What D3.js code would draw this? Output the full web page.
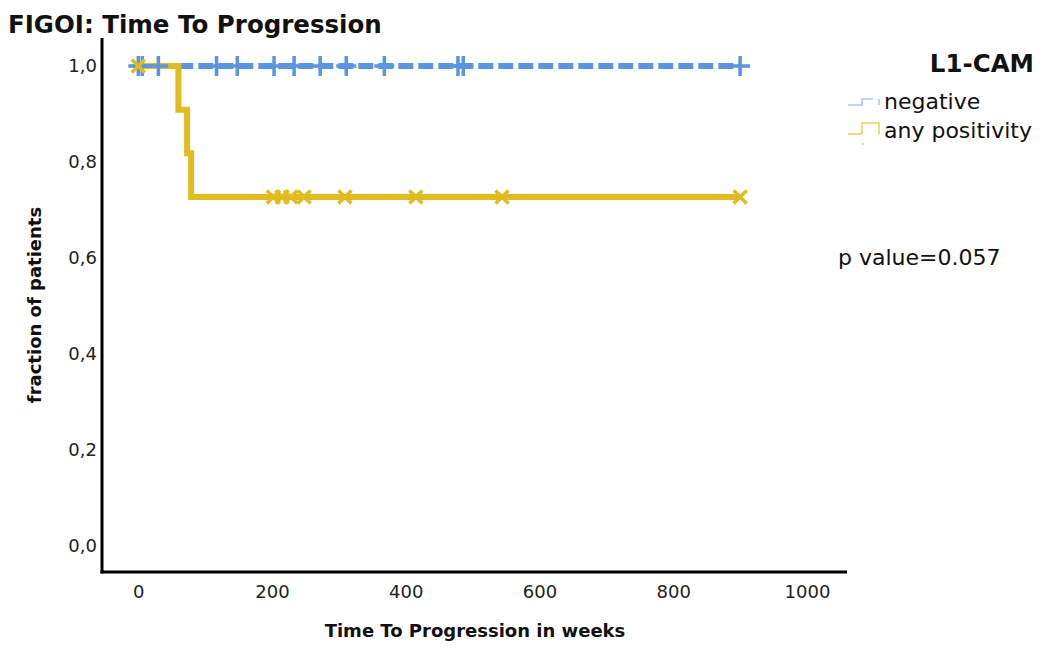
<!DOCTYPE html>
<html>
<head>
<meta charset="utf-8">
<script src="https://cdn.jsdelivr.net/npm/d3@7"></script>
<style>
  html, body { margin: 0; padding: 0; background: #fff; }
  svg { display: block; font-family: "DejaVu Sans", sans-serif; }
</style>
</head>
<body>
<svg id="chart" width="1047" height="649"></svg>
<script>
// Kaplan-Meier steps: [weeks, survival fraction]
const negSteps = [[0, 1], [900, 1]];
const posSteps = [[0, 1], [60, 0.909], [73, 0.818], [79, 0.727], [900, 0.727]];

// censored observations (weeks)
const negCensored = [0, 6, 30, 117, 148, 203, 233, 272, 311, 368, 478, 486, 900];
const posCensored = [[0, 1], [202, 0.727], [215, 0.727], [228, 0.727], [248, 0.727],
                     [309, 0.727], [415, 0.727], [544, 0.727], [900, 0.727]];

const xTicks = [0, 200, 400, 600, 800, 1000];
const yTicks = [0, 0.2, 0.4, 0.6, 0.8, 1.0];
const legendItems = ["negative", "any positivity"];

const blue = "#5a95e0";
const yellow = "#e1bb1f";

const svg = d3.select("#chart");
const x = d3.scaleLinear().domain([0, 1000]).range([138.3, 807]);
const y = d3.scaleLinear().domain([0, 1]).range([546, 66]);

// title
svg.append("text").attr("x", 8).attr("y", 33)
    .attr("font-size", "24.5px").attr("font-weight", "bold").attr("fill", "#111")
    .text("FIGOI: Time To Progression");

// axes lines
svg.append("line").attr("x1", 102).attr("x2", 102).attr("y1", 38).attr("y2", 573.5)
    .attr("stroke", "#000").attr("stroke-width", 3);
svg.append("line").attr("x1", 100.5).attr("x2", 847).attr("y1", 572).attr("y2", 572)
    .attr("stroke", "#000").attr("stroke-width", 3);

const xAxis = svg.append("g").attr("transform", "translate(0,572)")
    .call(d3.axisBottom(x).tickValues(xTicks).tickSize(0).tickPadding(13).tickFormat(d3.format("d")));
xAxis.select(".domain").remove();
xAxis.selectAll("text").attr("font-size", "18px").attr("fill", "#222")
    .attr("font-family", "DejaVu Sans, sans-serif");

const yAxis = svg.append("g").attr("transform", "translate(102,0)")
    .call(d3.axisLeft(y).tickValues(yTicks).tickSize(0).tickPadding(5)
        .tickFormat(d => d3.format(".1f")(d).replace(".", ",")));
yAxis.select(".domain").remove();
yAxis.selectAll("text").attr("font-size", "18px").attr("fill", "#222")
    .attr("font-family", "DejaVu Sans, sans-serif");

// axis titles
svg.append("text").attr("x", 475).attr("y", 637).attr("text-anchor", "middle")
    .attr("font-size", "18px").attr("font-weight", "bold").attr("fill", "#111")
    .text("Time To Progression in weeks");
svg.append("text").attr("transform", "translate(41,305) rotate(-90)").attr("text-anchor", "middle")
    .attr("font-size", "18px").attr("font-weight", "bold").attr("fill", "#111")
    .text("fraction of patients");

// curves
const stepLine = d3.line().x(d => x(d[0])).y(d => y(d[1])).curve(d3.curveStepAfter);

svg.append("path").datum(negSteps).attr("d", stepLine)
    .attr("fill", "none").attr("stroke", blue).attr("stroke-width", 6)
    .attr("stroke-dasharray", "15,5");
svg.append("path").datum(posSteps).attr("d", stepLine)
    .attr("fill", "none").attr("stroke", yellow).attr("stroke-width", 6);

// censor marks: + for negative, x for positive
svg.append("g").selectAll("path").data(negCensored).join("path")
    .attr("d", d => {
        const cx = x(d), cy = y(1);
        return `M${cx - 10},${cy}H${cx + 10}M${cx},${cy - 10}V${cy + 10}`;
    })
    .attr("stroke", blue).attr("stroke-width", 3.5).attr("fill", "none");

svg.append("g").selectAll("path").data(posCensored).join("path")
    .attr("d", d => {
        const cx = x(d[0]), cy = y(d[1]), r = 6.5;
        return `M${cx - r},${cy - r}L${cx + r},${cy + r}M${cx - r},${cy + r}L${cx + r},${cy - r}`;
    })
    .attr("stroke", yellow).attr("stroke-width", 3.5).attr("fill", "none");

// legend
svg.append("text").attr("x", 1034).attr("y", 72).attr("text-anchor", "end")
    .attr("font-size", "24.5px").attr("font-weight", "bold").attr("fill", "#111")
    .text("L1-CAM");

const legendColors = ["#a9c9f1", "#ebcf62"];
const leg = svg.append("g").selectAll("g").data(legendItems).join("g")
    .attr("transform", (d, i) => `translate(848,${105 + i * 29})`);
leg.append("path")
    .attr("d", (d, i) => i === 0 ? "M0,0H14V-6H25M31,-6V0" : "M0,0H14V-11H31V0")
    .attr("fill", "none").attr("stroke", (d, i) => legendColors[i]).attr("stroke-width", 1.6);
leg.append("text").attr("x", 36).attr("y", 4)
    .attr("font-size", "22px").attr("fill", "#111").text(d => d);
svg.append("circle").attr("cx", 863).attr("cy", 144).attr("r", 0.9).attr("fill", "#a9c9f1");

// p value
svg.append("text").attr("x", 838).attr("y", 265)
    .attr("font-size", "22px").attr("fill", "#111").text("p value=0.057");
</script>
</body>
</html>
